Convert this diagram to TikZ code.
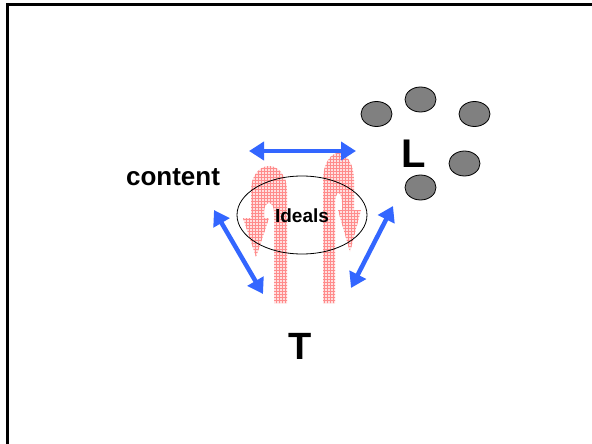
\documentclass[tikz,border=0pt]{standalone}
\usepackage{fontspec}
\setmainfont{Liberation Sans}
\usetikzlibrary{arrows.meta,patterns,shapes.geometric}
\definecolor{arrowblue}{RGB}{51,102,255}
\definecolor{dotgray}{RGB}{128,128,128}
\begin{document}
\begin{tikzpicture}[x=1pt,y=-1pt,
  frame/.style={line width=2.5pt},
  bluearrow/.style={draw=arrowblue,line width=4.5pt,{Triangle[length=15pt,width=18pt]}-{Triangle[length=15pt,width=18pt]}},
  hairpin/.style={preaction={fill=red!12},pattern=grid,pattern color=red!45},
  dot/.style={ellipse,draw=black,line width=0.8pt,fill=dotgray,minimum width=31pt,minimum height=25pt,inner sep=0pt},
  bigtxt/.style={font=\bfseries\fontsize{40}{40}\selectfont,inner sep=0pt},
  lbl/.style={font=\bfseries\fontsize{26}{26}\selectfont,inner sep=0pt}]
\useasboundingbox (0,0) rectangle (592,444);
\draw[frame] (7.5,444) -- (7.5,4.5) -- (592,4.5);
% red hairpin arrows
\path[hairpin] (287,303) -- (287,190) arc[start angle=0,end angle=180,x radius=18,y radius=-24]
  -- (251,218) -- (243,218) -- (256,257) -- (269,218) -- (264,218) -- (264,212)
  arc[start angle=180,end angle=0,x radius=5,y radius=-9] -- (274,303) -- cycle;
\path[hairpin] (323,303) -- (323,180) arc[start angle=180,end angle=0,x radius=15.5,y radius=-27]
  -- (354,210) -- (361,210) -- (350,252) -- (338,210) -- (342,210) -- (342,203)
  arc[start angle=0,end angle=180,x radius=3.5,y radius=-10] -- (335,303) -- cycle;
% ellipse with Ideals
\node[ellipse,draw=black,line width=0.8pt,minimum width=130pt,minimum height=78pt,inner sep=0pt] (ideals) at (302,215) {};
\node[font=\bfseries\fontsize{19}{19}\selectfont,inner sep=0pt] (idealstxt) at (302,216) {Ideals};
% blue arrows
\coordinate (t1) at (249,151); \coordinate (t2) at (356,151);
\coordinate (l1) at (214,210); \coordinate (l2) at (263,294);
\coordinate (r1) at (393,206); \coordinate (r2) at (351,288);
\draw[bluearrow] (t1) -- (t2);
\draw[bluearrow] (l1) -- (l2);
\draw[bluearrow] (r1) -- (r2);
% labels
\node[lbl] (content) at (173,177) {content};
\node[bigtxt] (L) at (414,154) {L};
\node[font=\bfseries\fontsize{38}{38}\selectfont,inner sep=0pt] (T) at (300,346) {T};
% gray dots
\node[dot] (d1) at (376.5,114) {};
\node[dot] (d2) at (420.5,99.5) {};
\node[dot] (d3) at (474.5,114) {};
\node[dot] (d4) at (464.5,163.5) {};
\node[dot] (d5) at (420.5,187.5) {};
\end{tikzpicture}
\end{document}
